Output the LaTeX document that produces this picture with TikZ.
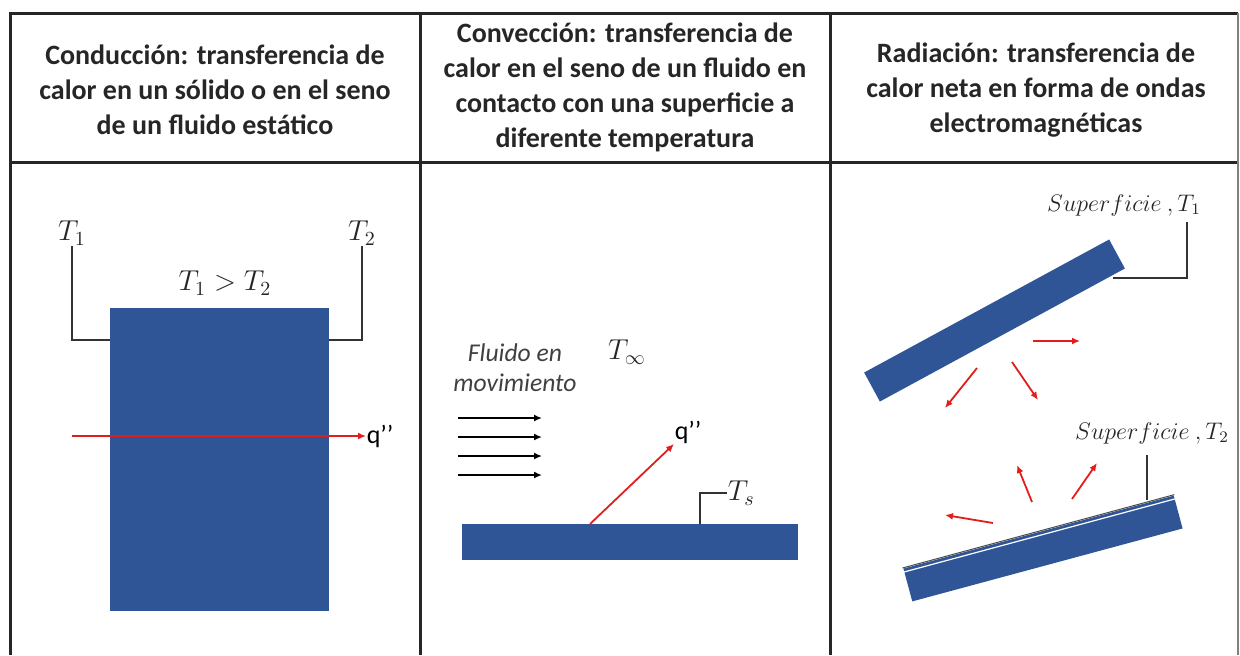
\documentclass[tikz,border=0pt]{standalone}
\usepackage{fontspec}
\setmainfont{Carlito}
\usetikzlibrary{arrows.meta,calc}
\definecolor{azul}{RGB}{47,85,151}
\definecolor{rojo}{RGB}{225,30,30}

\begin{document}
\begin{tikzpicture}[x=0.5pt, y=-0.5pt, line width=0.8pt,
    every node/.append style={inner sep=0pt},
    bloque/.style={fill=azul, draw=none},
    titulo/.style={font=\fontsize{14}{17.5}\selectfont\bfseries, align=center, text=black!85},
    etiqueta/.style={font=\fontsize{14}{16}\selectfont, text=black!85},
    guia/.style={draw=black!80, line width=0.8pt},
    flecha/.style={rojo, line width=0.9pt, -{Latex[length=4pt,width=3.5pt]}},
    viento/.style={black, line width=0.9pt, -{Latex[length=4pt,width=3.5pt]}}]
  \useasboundingbox (0,0) rectangle (1240,655);
  \tikzstyle{borde} = [line width=1.5pt, black!85]
  % tabla
  \draw[borde] (10,655) -- (10,13) -- (1238,13);
  \draw[borde] (10,162) -- (1238,162);
  \draw[borde] (420,13) -- (420,655);
  \draw[borde] (830,13) -- (830,655);
  \draw[black!50, line width=0.8pt] (1238,13) -- (1238,655);
  % encabezados
  \node (hcond) [titulo] at (215,90) {Conducción: transferencia de\\calor en un sólido o en el seno\\de un fluido estático};
  \node (hconv) [titulo] at (625,87) {Convección: transferencia de\\calor en el seno de un fluido en\\contacto con una superficie a\\diferente temperatura};
  \node (hrad) [titulo] at (1036,90) {Radiación: transferencia de\\calor neta en forma de ondas\\electromagnéticas};
  % conduccion
  \node (solido) [bloque, minimum width=109.5pt, minimum height=151.5pt] at (219.5,459.5) {};
  \node (T1) [etiqueta] at (72,233) {$T_1$};
  \node (T2) [etiqueta] at (362,233) {$T_2$};
  \node (T12) [etiqueta] at (225,283) {$T_1 > T_2$};
  \coordinate (s1) at (110,340);
  \coordinate (s2) at (329,340);
  \draw[guia] (T1.south) |- (s1);
  \draw[guia] (T2.south) |- (s2);
  \coordinate (qa) at (72,436);
  \node (q1) [anchor=west, font=\fontsize{13}{15}\selectfont] at (366,436) {q’’};
  \draw[flecha] (qa) -- (q1.west);
  % conveccion
  \node (fluido) [font=\fontsize{12.8}{15}\selectfont\itshape, align=center, text=black!75] at (515,368) {Fluido en\\movimiento};
  \node (Tinf) [etiqueta] at (627,352) {$T_\infty$};
  \foreach \y [count=\i] in {418,437,456,475} {
    \coordinate (v\i a) at (458,\y);
    \coordinate (v\i b) at (542,\y);
    \draw[viento] (v\i a) -- (v\i b);
  }
  \node (placa) [bloque, minimum width=168pt, minimum height=18pt] at (630,542) {};
  \coordinate (qs) at (590,524);
  \node (q2) [anchor=south west, font=\fontsize{13}{15}\selectfont] at (674,444) {q’’};
  \draw[flecha] (qs) -- (q2.south west);
  \coordinate (ts) at (700,524);
  \node (Ts) [etiqueta, anchor=west] at (727,493) {$T_s$};
  \draw[guia] (ts) |- (Ts.west);
  % radiacion
  \node (sup1) [bloque, minimum width=139.4pt, minimum height=16.5pt, rotate=28.5] at (994.5,320.5) {};
  \node (sup2) [bloque, minimum width=140pt, minimum height=17pt, rotate=15.1] at (1043,548.5) {};
  \draw[black!70, line width=0.5pt] (sup2.north west) -- (sup2.north east);
  \draw[white, line width=0.6pt] ($(sup2.north west)!0.12!(sup2.south west)$) -- ($(sup2.north east)!0.12!(sup2.south east)$);
  \node (lab1) [etiqueta, font=\fontsize{12}{14}\selectfont] at (1124,205) {$Superficie\ ,T_1$};
  \node (lab2) [etiqueta, font=\fontsize{12}{14}\selectfont] at (1152,433) {$Superficie\ ,T_2$};
  \coordinate (l1) at (1187,222);
  \coordinate (p1) at (1113,278);
  \draw[guia] (l1) |- (p1);
  \coordinate (l2) at (1147,455);
  \coordinate (p2) at (1147,500);
  \draw[guia] (l2) -- (p2);
  \foreach \xa/\ya/\xb/\yb [count=\i] in {1033/341/1080/341, 977/368/945/408, 1012/362/1038/400,
      993/523/945/515, 1032/502/1017/465, 1072/499/1097/463} {
    \coordinate (r\i a) at (\xa,\ya);
    \coordinate (r\i b) at (\xb,\yb);
    \draw[flecha] (r\i a) -- (r\i b);
  }
\end{tikzpicture}
\end{document}
